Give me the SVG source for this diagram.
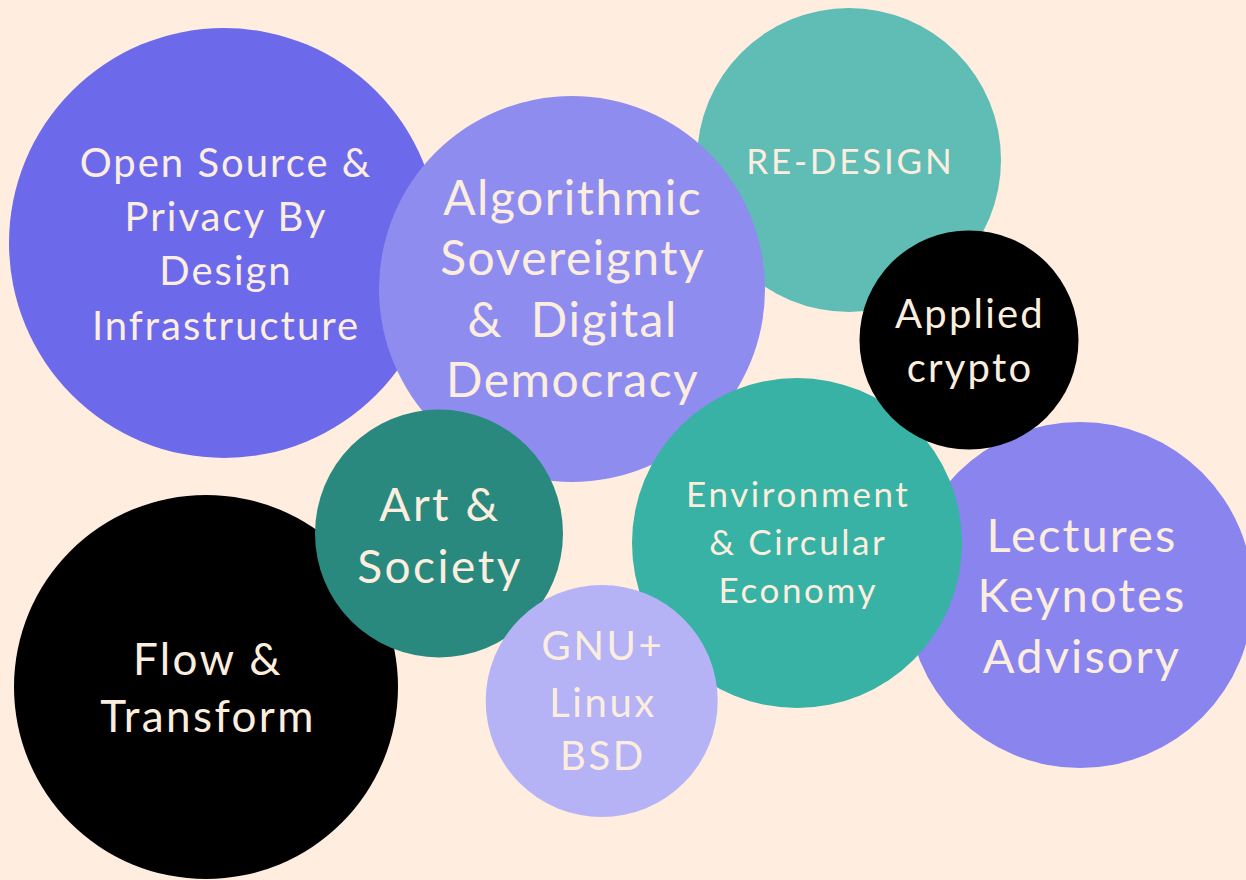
<svg xmlns="http://www.w3.org/2000/svg" width="1246" height="880" viewBox="0 0 1246 880">
<style>
text{font-family:Lato,"Open Sans","Liberation Sans",sans-serif;fill:#FCEEDF;text-anchor:middle}
</style>
<rect width="1246" height="880" fill="#FFEEDF"/>
<g id="connectors"></g>
<g id="open-source">
<circle cx="224" cy="243" r="215" fill="#6C6AEB"/>
<text font-size="40" letter-spacing="2"><tspan x="226" y="177">Open Source &amp;</tspan><tspan x="226" y="231">Privacy By</tspan><tspan x="226" y="285">Design</tspan><tspan x="226" y="340">Infrastructure</tspan></text>
</g>
<g id="re-design">
<circle cx="849" cy="160" r="152" fill="#5FBDB6"/>
<text font-size="35" letter-spacing="2.8" x="850.4" y="174">RE-DESIGN</text>
</g>
<g id="algorithmic">
<circle cx="572" cy="289" r="193" fill="#8F8CF0"/>
<text font-size="48" letter-spacing="1.5" style="white-space:pre"><tspan x="572.7" y="215">Algorithmic</tspan><tspan x="572.7" y="275">Sovereignty</tspan><tspan x="572.7" y="337">&amp;  Digital</tspan><tspan x="572.7" y="397">Democracy</tspan></text>
</g>
<g id="flow">
<circle cx="206" cy="687" r="192" fill="#000"/>
<text font-size="44" letter-spacing="2.4"><tspan x="208" y="675">Flow &amp;</tspan><tspan x="208" y="732">Transform</tspan></text>
</g>
<g id="lectures">
<circle cx="1080" cy="595" r="173" fill="#8A84EF"/>
<text font-size="47" letter-spacing="2.1"><tspan x="1082" y="552">Lectures</tspan><tspan x="1082" y="612">Keynotes</tspan><tspan x="1082" y="673">Advisory</tspan></text>
</g>
<g id="environment">
<circle cx="797" cy="543" r="165" fill="#37B2A4"/>
<text font-size="35" letter-spacing="2.6"><tspan x="798.3" y="507">Environment</tspan><tspan x="798.3" y="555">&amp; Circular</tspan><tspan x="798.3" y="603">Economy</tspan></text>
</g>
<g id="applied-crypto">
<circle cx="969" cy="340" r="109.5" fill="#000"/>
<text font-size="40" letter-spacing="2.2"><tspan x="970" y="328">Applied</tspan><tspan x="970" y="382">crypto</tspan></text>
</g>
<g id="art-society">
<circle cx="439" cy="533.5" r="124" fill="#2A897E"/>
<text font-size="46" letter-spacing="2.5"><tspan x="440" y="521">Art &amp;</tspan><tspan x="440" y="583">Society</tspan></text>
</g>
<g id="gnu">
<circle cx="601.7" cy="701" r="116" fill="#B5B3F5"/>
<text font-size="40" letter-spacing="2.6"><tspan x="603" y="660">GNU+</tspan><tspan x="603" y="717">Linux</tspan><tspan x="603" y="770">BSD</tspan></text>
</g>
</svg>
